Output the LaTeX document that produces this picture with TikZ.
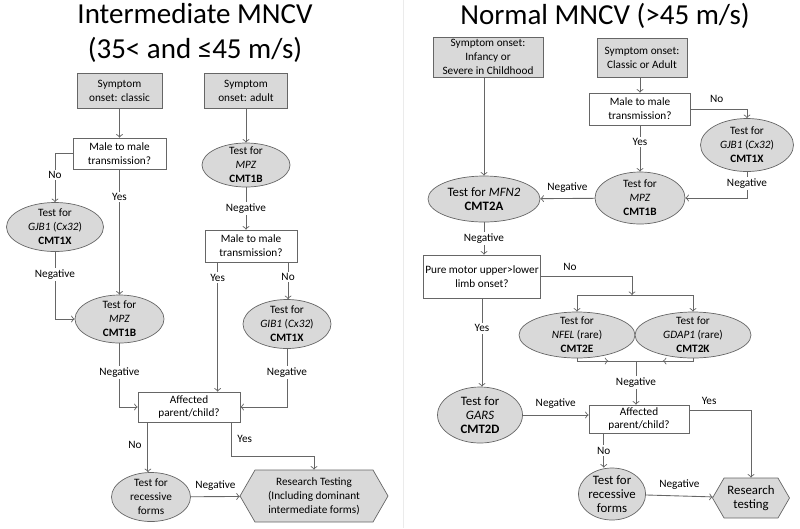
\documentclass[tikz,border=0pt]{standalone}
\usepackage{fontspec}
\setmainfont{Carlito}
\usetikzlibrary{shapes.geometric,shapes.symbols,calc,decorations.markings}

\newcommand{\nodefont}{\fontsize{6.4}{7.9}\selectfont}
\newcommand{\bigfont}{\fontsize{7.3}{8.1}\selectfont}
\newcommand{\titlefont}{\fontsize{16.5}{19.8}\selectfont}

\tikzset{
  sz/.style 2 args={minimum width=#1*0.02cm, minimum height=#2*0.02cm},
  onset/.style={draw=black!60, fill=gray!30, align=center, inner sep=1pt},
  quest/.style={draw=black!60, fill=white, align=center, inner sep=1pt},
  test/.style={ellipse, draw=black!60, fill=gray!30, align=center, inner sep=0pt, inner ysep=-2pt},
  research/.style={signal, signal to=east and west, signal pointer angle=120,
    draw=black!60, fill=gray!30, align=center, inner sep=1pt},
  lbl/.style={fill=white, inner sep=1pt},
  conn/.style={->, draw=black!60, line width=0.5pt},
  midconn/.style={draw=black!60, line width=0.5pt, postaction={decorate},
    decoration={markings, mark=at position 0.55 with {\arrow{>}}}},
}

\begin{document}
\begin{tikzpicture}[x=0.02cm,y=-0.02cm,every node/.style={font=\nodefont}]
  \useasboundingbox (0,0) rectangle (800,528);
  \draw[black!8] (403,0) -- (403,528);

  % intermediate MNCV
  \node[align=center,font=\titlefont] (titleL) at (195,33) {Intermediate MNCV\\(35< and ≤45 m/s)};

  \node[onset,sz={85}{35}] (onsetC) at (119.5,90.5) {Symptom\\onset: classic};
  \node[onset,sz={83}{35}] (onsetA) at (246,90.5) {Symptom\\onset: adult};
  \node[quest,sz={93}{31}] (mtmA) at (119.5,153.5) {Male to male\\transmission?};
  \node[test,sz={97}{49}] (gjbA) at (55,227) {Test for\\\textit{GJB1} (\textit{Cx32})\\\textbf{CMT1X}};
  \node[test,sz={88}{44}] (mpzA) at (246,165) {Test for\\\textit{MPZ}\\\textbf{CMT1B}};
  \node[quest,sz={92}{32}] (mtmB) at (251,246) {Male to male\\transmission?};
  \node[test,sz={89}{48}] (mpzB) at (119.5,319) {Test for\\\textit{MPZ}\\\textbf{CMT1B}};
  \node[test,sz={88}{49}] (gibB) at (287,324) {Test for\\\textit{GIB1} (\textit{Cx32})\\\textbf{CMT1X}};
  \node[quest,sz={102}{30}] (affL) at (189,407) {Affected\\parent/child?};
  \node[test,sz={79}{49}] (recL) at (151,497) {Test for\\recessive\\forms};
  \node[research,sz={148}{52}] (resL) at (314,496) {Research Testing\\(Including dominant\\intermediate forms)};

  \coordinate (yesB) at ($(mtmB.south west)!0.14!(mtmB.south east)$);
  \coordinate (noB) at ($(mtmB.south west)!0.9!(mtmB.south east)$);
  \coordinate (noL) at ($(affL.south west)!0.1!(affL.south east)$);
  \coordinate (yesL) at ($(affL.south west)!0.91!(affL.south east)$);

  \draw[conn] (onsetC) -- (mtmA);
  \draw[conn] (mtmA.west) -| node[lbl,pos=0.72] {No} (gjbA.north);
  \draw[conn] (mtmA) -- node[lbl,pos=0.22] {Yes} (mpzB);
  \draw[conn] (gjbA.south) |- node[lbl,pos=0.17] {Negative} (mpzB.west);
  \draw[conn] (onsetA) -- (mpzA);
  \draw[conn] (mpzA) -- node[lbl] {Negative} (mpzA |- mtmB.north);
  \draw[conn] (yesB) -- node[lbl,pos=0.12] {Yes} (yesB |- affL.north);
  \draw[conn] (noB) -- node[lbl,pos=0.4] {No} (noB |- gibB.north);
  \draw[conn] (mpzB.south) |- node[lbl,pos=0.23] {Negative} (affL.west);
  \draw[conn] (gibB.south) |- node[lbl,pos=0.2] {Negative} (affL.east);
  \draw[conn] (noL) -- node[left,pos=0.45] {No} (noL |- recL.north);
  \draw[conn] (yesL) -- node[right] {Yes} ++(0,34) -| (resL.north);
  \draw[conn] (recL) -- node[above] {Negative} (resL);

  % normal MNCV
  \node[font=\titlefont] (titleR) at (605,16) {Normal MNCV (>45 m/s)};

  \node[onset,sz={110}{40}] (onsetI) at (488,57) {Symptom onset:\\Infancy or\\Severe in Childhood};
  \node[onset,sz={90}{39}] (onsetCA) at (642,57.5) {Symptom onset:\\Classic or Adult};
  \node[quest,sz={101}{32}] (mtmR) at (640,109) {Male to male\\transmission?};
  \node[test,sz={93}{53}] (gjbR) at (747,145) {Test for\\\textit{GJB1} (\textit{Cx32})\\\textbf{CMT1X}};
  \node[test,sz={90}{52}] (mpzR) at (640,198) {Test for\\\textit{MPZ}\\\textbf{CMT1B}};
  \node[test,sz={112}{46},font=\bigfont] (mfnR) at (484,199) {Test for \textit{MFN2}\\\textbf{CMT2A}};
  \node[quest,sz={117}{43}] (pureR) at (482,276.5) {Pure motor upper>lower\\limb onset?};
  \node[test,sz={116}{46}] (nfelR) at (577,335) {Test for\\\textit{NFEL} (rare)\\\textbf{CMT2E}};
  \node[test,sz={116}{46}] (gdapR) at (693,335) {Test for\\\textit{GDAP1} (rare)\\\textbf{CMT2K}};
  \node[test,sz={85}{56},font=\bigfont] (garsR) at (480,415) {Test for\\\textit{GARS}\\\textbf{CMT2D}};
  \node[quest,sz={100}{28}] (affR) at (639,419) {Affected\\parent/child?};
  \node[test,sz={63}{52},font=\bigfont] (recR) at (612,494) {Test for\\recessive\\forms};
  \node[research,sz={77}{40},font=\bigfont] (resR) at (751,498) {Research\\testing};

  \coordinate (splitR) at (632,295);
  \coordinate (mergeR) at (636,361);
  \coordinate (yesR) at ($(affR.north east)!0.2!(affR.south east)$);
  \coordinate (noR) at ($(affR.south west)!0.15!(affR.south east)$);

  \draw[conn] (onsetI.south -| mfnR) -- (mfnR);
  \draw[conn] (onsetCA.south -| mtmR) -- (mtmR);
  \draw[conn] (mtmR.east) -| node[above,pos=0.23] {No} (gjbR.north);
  \draw[conn] (mtmR) -- node[lbl,pos=0.36] {Yes} (mpzR);
  \draw[conn] (gjbR.south) |- node[lbl,pos=0.22] {Negative} (mpzR.east);
  \draw[conn] (mpzR) -- node[above] {Negative} (mfnR);
  \draw[conn] (mfnR) -- node[lbl] {Negative} (mfnR |- pureR.north);
  \draw[conn] (pureR.east) -| node[above,pos=0.16] {No} (splitR);
  \draw[conn] (splitR) -| (nfelR.north);
  \draw[conn] (splitR) -| (gdapR.north);
  \draw[midconn] (nfelR.south) |- (mergeR);
  \draw[midconn] (gdapR.south) |- (mergeR);
  \draw[conn] (mergeR) -- node[lbl] {Negative} (mergeR |- affR.north);
  \draw[conn] (pureR.south) -- node[lbl,pos=0.34] {Yes} (pureR.south |- garsR.north);
  \draw[conn] (garsR.east) -- node[above] {Negative} (garsR.east -| affR.west);
  \draw[conn] (yesR) -| node[above,pos=0.16] {Yes} (resR.north);
  \draw[conn] (noR) -- node[lbl] {No} (noR |- recR.north);
  \draw[conn] (recR) -- node[above] {Negative} (resR);
\end{tikzpicture}
\end{document}
